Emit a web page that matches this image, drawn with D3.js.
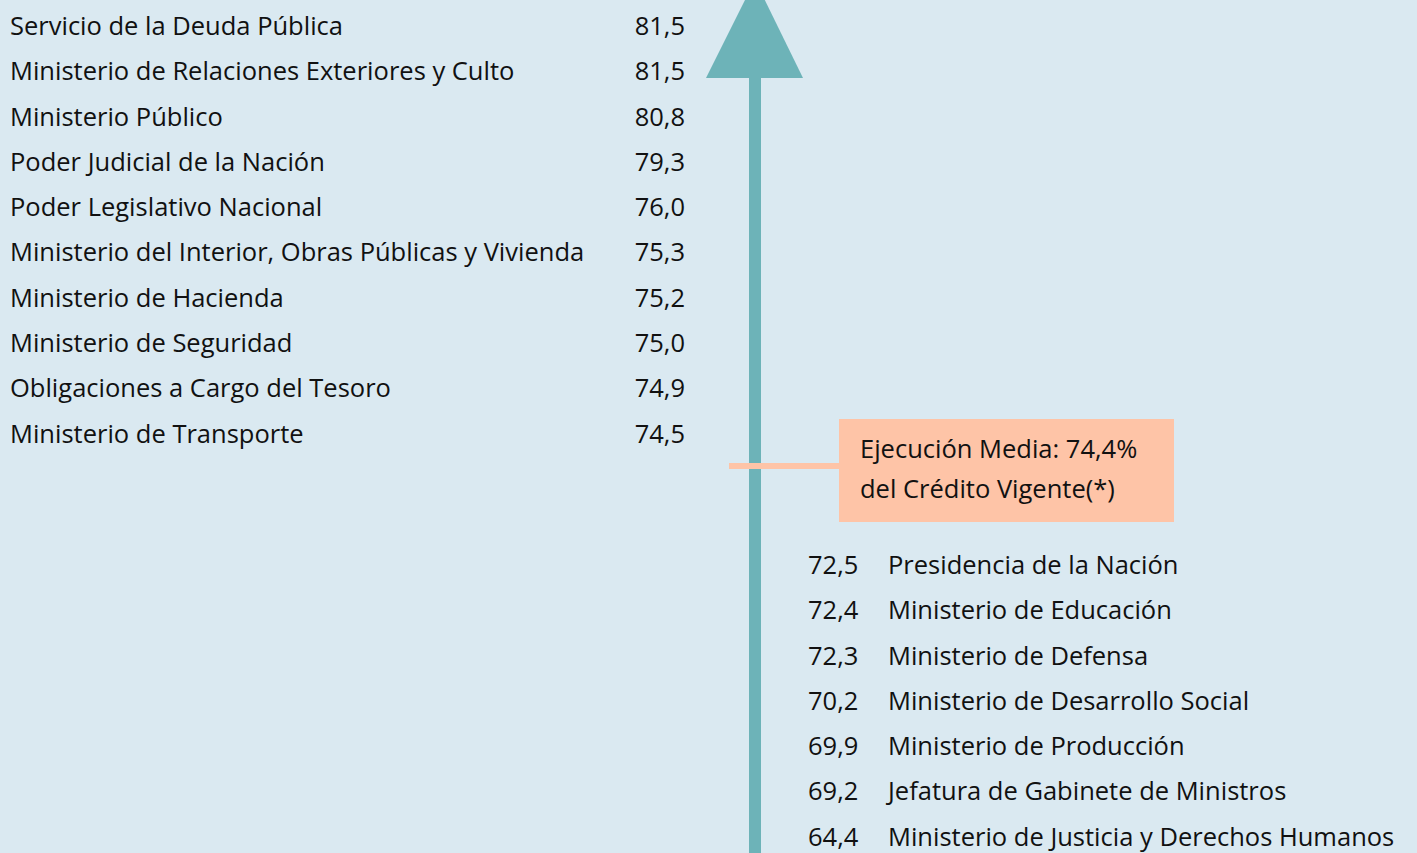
<!DOCTYPE html>
<html>
<head>
<meta charset="utf-8">
<script src="https://cdn.jsdelivr.net/npm/d3@7"></script>
<style>
  body { margin: 0; background: #dae9f1; }
  svg { display: block; }
  text { font-family: "Open Sans", sans-serif; fill: #111; }
</style>
</head>
<body>
<svg width="1417" height="853"></svg>
<script>
// jurisdictions above the mean
const aboveNames = [
  "Servicio de la Deuda Pública",
  "Ministerio de Relaciones Exteriores y Culto",
  "Ministerio Público",
  "Poder Judicial de la Nación",
  "Poder Legislativo Nacional",
  "Ministerio del Interior, Obras Públicas y Vivienda",
  "Ministerio de Hacienda",
  "Ministerio de Seguridad",
  "Obligaciones a Cargo del Tesoro",
  "Ministerio de Transporte"
];
const aboveValues = [81.5, 81.5, 80.8, 79.3, 76.0, 75.3, 75.2, 75.0, 74.9, 74.5];

// jurisdictions below the mean
const belowNames = [
  "Presidencia de la Nación",
  "Ministerio de Educación",
  "Ministerio de Defensa",
  "Ministerio de Desarrollo Social",
  "Ministerio de Producción",
  "Jefatura de Gabinete de Ministros",
  "Ministerio de Justicia y Derechos Humanos"
];
const belowValues = [72.5, 72.4, 72.3, 70.2, 69.9, 69.2, 64.4];

const meanValue = 74.4;
const meanLines = ["Ejecución Media: 74,4%", "del Crédito Vigente(*)"];

const svg = d3.select("svg");
const fmt = (v) => d3.format(".1f")(v).replace(".", ",");
const fontSize = 25.5;

const rowStep = 45.3;
const yAbove = d3.scaleLinear().domain([0, 1]).range([26, 26 + rowStep]);
const yBelow = d3.scaleLinear().domain([0, 1]).range([565, 565 + rowStep]);

const arrowX = 755;
const teal = "#6db3b8";
const peach = "#fec4a7";

// arrow shaft and head
svg.append("rect")
  .attr("x", arrowX - 6).attr("y", 76)
  .attr("width", 12).attr("height", 853 - 76)
  .attr("fill", teal);
svg.append("path")
  .attr("d", d3.line()([[706, 78], [803, 78], [arrowX, -20]]) + "Z")
  .attr("fill", teal);

// mean marker
svg.append("rect")
  .attr("x", 729).attr("y", 463)
  .attr("width", 112).attr("height", 6)
  .attr("fill", peach);
svg.append("rect")
  .attr("x", 839).attr("y", 419)
  .attr("width", 335).attr("height", 103)
  .attr("fill", peach);
svg.append("g")
  .selectAll("text")
  .data(meanLines)
  .join("text")
  .attr("x", 860)
  .attr("y", (d, i) => 449 + i * 40)
  .attr("dy", "0.35em")
  .attr("font-size", fontSize)
  .text((d) => d);

// rows above
const upper = svg.append("g");
upper.selectAll("text.name")
  .data(aboveNames)
  .join("text")
  .attr("class", "name")
  .attr("x", 10)
  .attr("y", (d, i) => yAbove(i))
  .attr("dy", "0.35em")
  .attr("font-size", fontSize)
  .text((d) => d);
upper.selectAll("text.val")
  .data(aboveValues)
  .join("text")
  .attr("class", "val")
  .attr("x", 685)
  .attr("y", (d, i) => yAbove(i))
  .attr("dy", "0.35em")
  .attr("text-anchor", "end")
  .attr("font-size", fontSize)
  .text((d) => fmt(d));

// rows below
const lower = svg.append("g");
lower.selectAll("text.val")
  .data(belowValues)
  .join("text")
  .attr("class", "val")
  .attr("x", 808)
  .attr("y", (d, i) => yBelow(i))
  .attr("dy", "0.35em")
  .attr("font-size", fontSize)
  .text((d) => fmt(d));
lower.selectAll("text.name")
  .data(belowNames)
  .join("text")
  .attr("class", "name")
  .attr("x", 888)
  .attr("y", (d, i) => yBelow(i))
  .attr("dy", "0.35em")
  .attr("font-size", fontSize)
  .text((d) => d);
</script>
</body>
</html>
